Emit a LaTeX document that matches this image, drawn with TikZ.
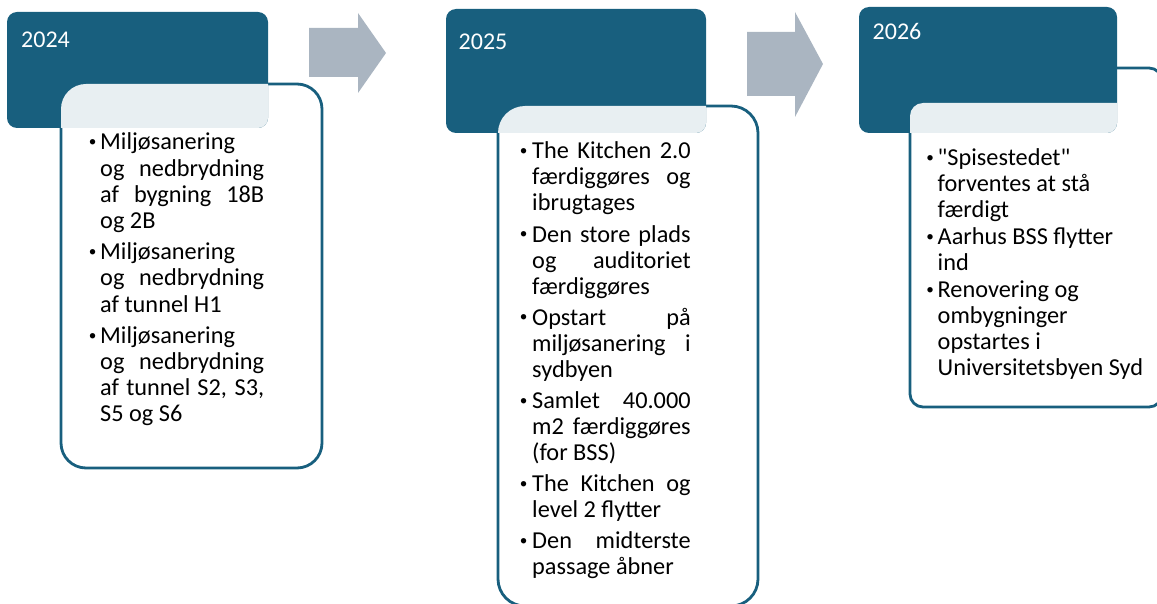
\documentclass[tikz,border=0pt]{standalone}
\usepackage{fontspec}
\setmainfont{Carlito}[Ligatures=TeXOff]
\definecolor{hdrblue}{RGB}{24,95,126}
\definecolor{arrowgray}{RGB}{170,181,193}
% small bullet dot
\newcommand\bdot{\raisebox{3.4pt}{\fontsize{15.2}{16}\selectfont •}}
% bullet line, bullet+justified line, justified line, plain line
\newcommand\bl[2]{\hbox{\llap{\hbox to #1{\hss\bdot\hss}}#2}}
\newcommand\bj[3]{\hbox to #2{\llap{\hbox to #1{\hss\bdot\hss}}#3}}
\newcommand\jl[2]{\hbox to #1{#2}}
\newcommand\nl[1]{\hbox{#1}}
\begin{document}
\begin{tikzpicture}[x=1pt,y=-1pt,
  hdr/.style={fill=hdrblue},
  card/.style={fill=white,draw=hdrblue,line width=2.8pt},
  veil/.style={fill=white,fill opacity=0.9},
  blockarrow/.style={fill=arrowgray},
  yr/.style={text=white,font=\fontsize{24}{28}\selectfont,inner sep=0pt,anchor=base west},
  txt/.style={inner sep=0pt,anchor=base west,font=\fontsize{24.3}{26.1}\selectfont}]
\useasboundingbox (0,0) rectangle (1157,604);

% white cards
\path[card,rounded corners=25] (61,84) rectangle (322,468);
\path[card,rounded corners=27] (498,106) rectangle (758,606);
\path[card,rounded corners=13] (1100,68) -- (1162,68) -- (1162,407) -- (910,407) -- (910,103) -- (1100,103) -- cycle;

% dark headers
\path[hdr,rounded corners=10] (7,12) rectangle (268,128);
\path[hdr,rounded corners=10] (446,9) rectangle (706,133);
\path[hdr,rounded corners=10] (859,7) rectangle (1117,133);

% translucent overlap
\begin{scope}
  \clip[rounded corners=10] (7,12) rectangle (268,128);
  \fill[veil,rounded corners=25] (61,84) rectangle (322,468);
\end{scope}
\begin{scope}
  \clip[rounded corners=10] (446,9) rectangle (706,133);
  \fill[veil,rounded corners=27] (498,106) rectangle (758,606);
\end{scope}
\begin{scope}
  \clip[rounded corners=10] (859,7) rectangle (1117,133);
  \fill[veil,rounded corners=13] (910,103) rectangle (1162,407);
\end{scope}

% block arrows
\path[blockarrow] (309,28) -- (358,28) -- (358,13) -- (386,53) -- (358,93) -- (358,77) -- (309,77) -- cycle;
\path[blockarrow] (747,32) -- (795,32) -- (795,12) -- (823,64) -- (795,117) -- (795,96) -- (747,96) -- cycle;

% years
\node[yr] (y1) at (21,47.7) {2024};
\node[yr] (y2) at (458.5,49.3) {2025};
\node[yr] (y3) at (872.5,40) {2026};

% texts
\node[txt] (t1) at (100,150) {\vtop{\hsize=164pt\baselineskip=26.1pt
  \bl{15pt}{Miljøsanering}
  \jl{164pt}{og nedbrydning}
  \jl{164pt}{af bygning 18B}
  \nl{og 2B}
  \vskip5.5pt
  \bl{15pt}{Miljøsanering}
  \jl{164pt}{og nedbrydning}
  \nl{af tunnel H1}
  \vskip5.5pt
  \bl{15pt}{Miljøsanering}
  \jl{164pt}{og nedbrydning}
  \jl{164pt}{af tunnel S2, S3,}
  \nl{S5 og S6}}};

\node[txt] (t2) at (532,159) {\vtop{\hsize=158.5pt\baselineskip=26pt
  \bj{17pt}{158.5pt}{The Kitchen 2.0}
  \jl{158.5pt}{færdiggøres og}
  \nl{ibrugtages}
  \vskip5.2pt
  \bj{17pt}{158.5pt}{Den store plads}
  \jl{158.5pt}{og auditoriet}
  \nl{færdiggøres}
  \vskip5.2pt
  \bj{17pt}{158.5pt}{Opstart på}
  \jl{158.5pt}{miljøsanering i}
  \nl{sydbyen}
  \vskip5.2pt
  \bj{17pt}{158.5pt}{Samlet 40.000}
  \jl{158.5pt}{m2 færdiggøres}
  \nl{(for BSS)}
  \vskip5.2pt
  \bj{17pt}{158.5pt}{The Kitchen og}
  \nl{level 2 flytter}
  \vskip5.2pt
  \bj{17pt}{158.5pt}{Den midterste}
  \nl{passage åbner}}};

\node[txt] (t3) at (937.5,166) {\vtop{\hsize=215pt\baselineskip=26pt
  \bl{15pt}{"Spisestedet"}
  \nl{forventes at stå}
  \nl{færdigt}
  \vskip1pt
  \bl{15pt}{Aarhus BSS flytter}
  \nl{ind}
  \vskip1pt
  \bl{15pt}{Renovering og}
  \nl{ombygninger}
  \nl{opstartes i}
  \nl{Universitetsbyen Syd}}};
\end{tikzpicture}
\end{document}
